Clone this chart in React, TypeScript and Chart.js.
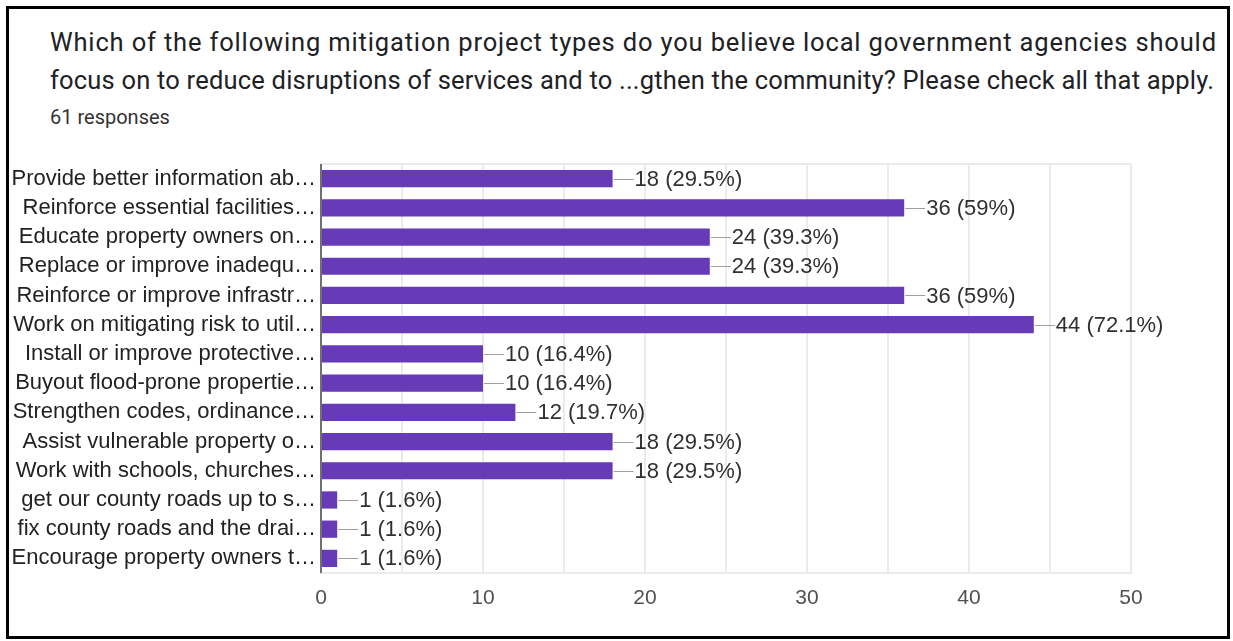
import React, { useEffect, useRef } from "react";
import { Chart, registerables } from "chart.js";

Chart.register(...registerables);

const titleLines = [
  "Which of the following mitigation project types do you believe local government agencies should",
  "focus on to reduce disruptions of services and to ...gthen the community? Please check all that apply.",
];
const titleSpacing = [0.84, 0.2];
const responsesText = "61 responses";

const categories = [
  "Provide better information ab…",
  "Reinforce essential facilities…",
  "Educate property owners on…",
  "Replace or improve inadequ…",
  "Reinforce or improve infrastr…",
  "Work on mitigating risk to util…",
  "Install or improve protective…",
  "Buyout flood-prone propertie…",
  "Strengthen codes, ordinance…",
  "Assist vulnerable property o…",
  "Work with schools, churches…",
  "get our county roads up to s…",
  "fix county roads and the drai…",
  "Encourage property owners t…",
];
const counts = [18, 36, 24, 24, 36, 44, 10, 10, 12, 18, 18, 1, 1, 1];
const percents = ["29.5%", "59%", "39.3%", "39.3%", "59%", "72.1%", "16.4%", "16.4%", "19.7%", "29.5%", "29.5%", "1.6%", "1.6%", "1.6%"];
const xMin = 0;
const xMax = 50;
const xGridStep = 5;
const xLabelStep = 10;

const FONT = "'Liberation Sans', Arial, sans-serif";

const valueLabelPlugin = {
  id: "valueLabels",
  afterDatasetsDraw(chart: any) {
    const ctx = chart.ctx;
    const meta = chart.getDatasetMeta(0);
    ctx.save();
    meta.data.forEach((bar: any, i: number) => {
      const x = bar.x;
      const y = bar.y;
      ctx.strokeStyle = "#9e9e9e";
      ctx.lineWidth = 1;
      ctx.beginPath();
      ctx.moveTo(x + 1, Math.round(y) + 0.5);
      ctx.lineTo(x + 21, Math.round(y) + 0.5);
      ctx.stroke();
      ctx.fillStyle = "#303030";
      ctx.font = `22px ${FONT}`;
      ctx.textAlign = "left";
      ctx.textBaseline = "middle";
      ctx.fillText(`${counts[i]} (${percents[i]})`, x + 22, y + 1);
    });
    ctx.restore();
  },
};

const frameLinesPlugin = {
  id: "frameLines",
  beforeDatasetsDraw(chart: any) {
    const { ctx, chartArea } = chart;
    ctx.save();
    ctx.strokeStyle = "#ebebeb";
    ctx.lineWidth = 2;
    ctx.beginPath();
    ctx.moveTo(chartArea.left, chartArea.top);
    ctx.lineTo(chartArea.right, chartArea.top);
    ctx.stroke();
    ctx.restore();
  },
  afterDatasetsDraw(chart: any) {
    const { ctx, chartArea } = chart;
    ctx.save();
    ctx.strokeStyle = "#707070";
    ctx.lineWidth = 2;
    ctx.beginPath();
    ctx.moveTo(chartArea.left, chartArea.top);
    ctx.lineTo(chartArea.left, chartArea.bottom);
    ctx.stroke();
    ctx.restore();
  },
};

export default function App() {
  const canvasRef = useRef<HTMLCanvasElement | null>(null);

  useEffect(() => {
    if (!canvasRef.current) return;
    const chart = new Chart(canvasRef.current, {
      type: "bar",
      data: {
        labels: categories,
        datasets: [
          {
            data: counts,
            backgroundColor: "#673ab7",
            borderWidth: 0,
            barPercentage: 0.59,
            categoryPercentage: 1,
          },
        ],
      },
      options: {
        indexAxis: "y",
        animation: false,
        responsive: false,
        maintainAspectRatio: false,
        layout: { padding: { top: 155, right: 96, left: 0, bottom: 0 } },
        plugins: {
          legend: { display: false },
          tooltip: { enabled: false },
          title: { display: false },
        },
        scales: {
          x: {
            min: xMin,
            max: xMax,
            grid: { color: "#ebebeb", lineWidth: 2, drawTicks: false },
            border: { display: true, color: "#ebebeb", width: 2 },
            ticks: {
              stepSize: xGridStep,
              padding: 13,
              color: "#505050",
              font: { family: FONT, size: 21 },
              callback: (v: any) => (Number(v) % xLabelStep === 0 ? String(v) : ""),
              maxRotation: 0,
              autoSkip: false,
            },
            afterFit: (scale: any) => {
              scale.height = 63;
            },
          },
          y: {
            grid: { display: false, drawTicks: false },
            border: { display: false },
            ticks: {
              padding: 5,
              color: "#222222",
              font: { family: FONT, size: 22 },
              autoSkip: false,
            },
            afterFit: (scale: any) => {
              scale.width = 312;
            },
          },
        },
      },
      plugins: [frameLinesPlugin, valueLabelPlugin],
    } as any);
    return () => chart.destroy();
  }, []);

  return (
    <div
      style={{
        position: "absolute",
        left: 6,
        top: 6,
        width: 1224,
        height: 633,
        border: "3px solid #000",
        boxSizing: "border-box",
        background: "#fff",
        overflow: "hidden",
      }}
    >
      <div
        style={{
          position: "absolute",
          left: 41,
          top: 14,
          fontFamily: "Roboto, 'Noto Sans', sans-serif",
          fontSize: 25.5,
          lineHeight: "38px",
          color: "#202124",
          whiteSpace: "nowrap",
        }}
      >
        {titleLines.map((t, i) => (
          <div key={i} style={{ letterSpacing: titleSpacing[i] }}>
            {t}
          </div>
        ))}
      </div>
      <div
        style={{
          position: "absolute",
          left: 41,
          top: 96,
          fontFamily: "Roboto, 'Noto Sans', sans-serif",
          fontSize: 20,
          lineHeight: "24px",
          color: "#333",
          whiteSpace: "nowrap",
        }}
      >
        {responsesText}
      </div>
      <canvas
        ref={canvasRef}
        width={1218}
        height={627}
        style={{ position: "absolute", left: 0, top: 0, width: 1218, height: 627 }}
      />
    </div>
  );
}
